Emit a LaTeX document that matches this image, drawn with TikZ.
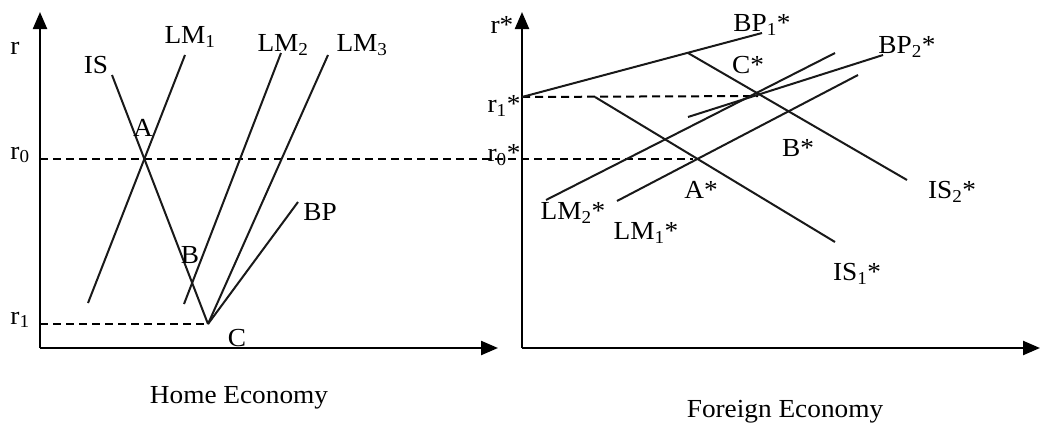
\documentclass[tikz,border=0pt]{standalone}
\usepackage{fontspec}
\setmainfont{Liberation Serif}[FakeStretch=1.05]
\usetikzlibrary{arrows.meta}
\begin{document}
\begin{tikzpicture}[x=1pt,y=-1pt,
  curve/.style={line width=2pt,black!90},
  axis/.style={line width=2.3pt,-{Triangle[length=17pt,width=14pt]}},
  guide/.style={line width=2pt,dash pattern=on 8pt off 5pt},
  lbl/.style={inner sep=0pt,font=\fontsize{26}{29}\selectfont}]
\useasboundingbox (0,0) rectangle (1040,439);
% ---------------- Home economy ----------------
\coordinate (O1) at (40,348);
\coordinate (Y1) at (40,12);
\coordinate (X1) at (498,348);
\draw[axis] (O1) -- (Y1);
\draw[axis] (O1) -- (X1);
\coordinate (r0s) at (40,159);
\coordinate (r0e) at (693,159);
\coordinate (r1s) at (40,324);
\coordinate (C) at (208,324);
\draw[guide] (r0s) -- (r0e);
\draw[guide] (r1s) -- (C);
\coordinate (IS0) at (112,75);
\coordinate (LM1a) at (88,303);  \coordinate (LM1b) at (185,55);
\coordinate (LM2a) at (184,304); \coordinate (LM2b) at (281,53);
\coordinate (LM3b) at (328,55);
\coordinate (BPb) at (298,202);
\draw[curve] (IS0) -- (C);
\draw[curve] (LM1a) -- (LM1b);
\draw[curve] (LM2a) -- (LM2b);
\draw[curve] (C) -- (LM3b);
\draw[curve] (C) -- (BPb);
\node[lbl] (lr) at (15,48) {r};
\node[lbl] (lr0) at (20,155) {r\textsubscript{0}};
\node[lbl] (lr1) at (20,320) {r\textsubscript{1}};
\node[lbl] (lIS) at (96,65) {IS};
\node[lbl] (lLM1) at (190,37) {LM\textsubscript{1}};
\node[lbl] (lLM2) at (283,45) {LM\textsubscript{2}};
\node[lbl] (lLM3) at (362,45) {LM\textsubscript{3}};
\node[lbl] (lBP) at (320,212) {BP};
\node[lbl] (lA) at (143,128) {A};
\node[lbl] (lB) at (190,255) {B};
\node[lbl] (lC) at (237,338) {C};
\node[lbl] (lhome) at (239,398) {Home Economy};
% ---------------- Foreign economy ----------------
\coordinate (O2) at (522,348);
\coordinate (Y2) at (522,12);
\coordinate (X2) at (1040,348);
\draw[axis] (O2) -- (Y2);
\draw[axis] (O2) -- (X2);
\coordinate (r1a) at (522,97);
\coordinate (Cs) at (758,96);
\draw[guide] (r1a) -- (Cs);
\coordinate (BP1b) at (762,33);
\coordinate (IS2a) at (688,53); \coordinate (IS2b) at (907,180);
\coordinate (IS1a) at (595,97); \coordinate (IS1b) at (835,242);
\coordinate (LM2sa) at (546,200); \coordinate (LM2sb) at (835,53);
\coordinate (LM1sa) at (617,201); \coordinate (LM1sb) at (858,75);
\coordinate (BP2a) at (688,117); \coordinate (BP2b) at (883,55);
\draw[curve] (r1a) -- (BP1b);
\draw[curve] (IS2a) -- (IS2b);
\draw[curve] (IS1a) -- (IS1b);
\draw[curve] (LM2sa) -- (LM2sb);
\draw[curve] (LM1sa) -- (LM1sb);
\draw[curve] (BP2a) -- (BP2b);
\node[lbl] (lrs) at (502,25) {r*};
\node[lbl] (lr1s) at (504,106) {r\textsubscript{1}*};
\node[lbl] (lr0s) at (504,155) {r\textsubscript{0}*};
\node[lbl] (lBP1s) at (762,25) {BP\textsubscript{1}*};
\node[lbl] (lBP2s) at (907,47) {BP\textsubscript{2}*};
\node[lbl] (lCs) at (748,65) {C*};
\node[lbl] (lBs) at (798,148) {B*};
\node[lbl] (lAs) at (701,190) {A*};
\node[lbl] (lIS2s) at (952,192) {IS\textsubscript{2}*};
\node[lbl] (lIS1s) at (857,274) {IS\textsubscript{1}*};
\node[lbl] (lLM2s) at (573,213) {LM\textsubscript{2}*};
\node[lbl] (lLM1s) at (646,233) {LM\textsubscript{1}*};
\node[lbl] (lforeign) at (785,412) {Foreign Economy};
\end{tikzpicture}
\end{document}
